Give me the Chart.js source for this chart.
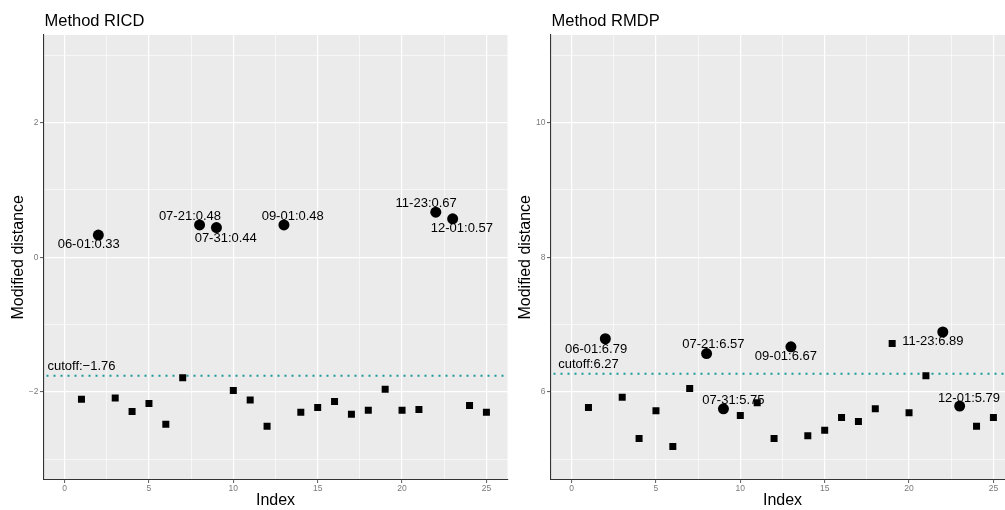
<!DOCTYPE html>
<html>
<head>
<meta charset="utf-8">
<script src="https://cdn.jsdelivr.net/npm/chart.js@4.4.1/dist/chart.umd.min.js"></script>
<style>
  html, body { margin: 0; padding: 0; background: #ffffff; overflow: hidden; width: 1005px; height: 510px; }
  canvas { position: absolute; top: 0; }
  #c1 { left: 0px; }
  #c2 { left: 506.5px; }
</style>
</head>
<body>
<canvas id="c1" width="515" height="510"></canvas>
<canvas id="c2" width="515" height="510"></canvas>
<script>
// ---------------- DATA ----------------
const panelTitles = ["Method RICD", "Method RMDP"];
const yAxisTitle = "Modified distance";
const xAxisTitle = "Index";

// regular observations (squares)
const regularIndex = [1, 3, 4, 5, 6, 7, 10, 11, 12, 14, 15, 16, 17, 18, 19, 20, 21, 24, 25];
const ricdRegular  = [-2.11, -2.09, -2.29, -2.17, -2.48, -1.79, -1.98, -2.12, -2.51, -2.30, -2.23, -2.14, -2.33, -2.27, -1.96, -2.27, -2.26, -2.20, -2.30];
const rmdpRegular  = [5.77, 5.92, 5.31, 5.72, 5.19, 6.05, 5.65, 5.84, 5.31, 5.35, 5.43, 5.62, 5.56, 5.75, 6.72, 5.69, 6.24, 5.49, 5.62];

// flagged observations (circles, labelled)
const flaggedIndex = [2, 8, 9, 13, 22, 23];
const flaggedDates = ["06-01", "07-21", "07-31", "09-01", "11-23", "12-01"];
const ricdFlagged  = [0.33, 0.48, 0.44, 0.48, 0.67, 0.57];
const rmdpFlagged  = [6.79, 6.57, 5.75, 6.67, 6.89, 5.79];

// cutoffs
const ricdCutoff = -1.76;
const rmdpCutoff = 6.27;
const cutoffLabelX = 1;

// axes
const xLimits = [-1.25, 26.25];
const xMajorTicks = [0, 5, 10, 15, 20, 25];
const xMinorTicks = [2.5, 7.5, 12.5, 17.5, 22.5];
const ricdYLimits = [-3.3, 3.3];
const ricdYMajor = [-2, 0, 2];
const ricdYMinor = [-3, -1, 1, 3];
const rmdpYLimits = [4.7, 11.3];
const rmdpYMajor = [6, 8, 10];
const rmdpYMinor = [5, 7, 9, 11];

// ---------------- HELPERS ----------------
const FONT = "'Liberation Sans', Arial, Helvetica, sans-serif";
const fmtNum = (v) => {
  const s = (Math.round(v * 100) / 100).toFixed(2);
  return s.replace('-', '\u2212');
};
const fmtTick = (v) => String(v).replace('-', '\u2212');

function makeChart(canvasId, cfg) {
  const majorSetX = new Set(xMajorTicks);
  const majorSetY = new Set(cfg.yMajor);

  const bgPlugin = {
    id: 'panelBg',
    beforeDraw(chart) {
      const {ctx, chartArea: a} = chart;
      ctx.save();
      ctx.fillStyle = '#EBEBEB';
      ctx.fillRect(a.left, a.top, a.right - a.left, a.bottom - a.top);
      ctx.restore();
    }
  };

  const cutoffPlugin = {
    id: 'cutoff',
    beforeDatasetsDraw(chart) {
      const {ctx, chartArea: a, scales} = chart;
      const y = scales.y.getPixelForValue(cfg.cutoff);
      ctx.save();
      ctx.beginPath();
      ctx.rect(a.left, a.top, a.right - a.left, a.bottom - a.top);
      ctx.clip();
      ctx.strokeStyle = '#1A9A9A';
      ctx.lineWidth = 2;
      ctx.setLineDash([2, 5]);
      ctx.beginPath();
      ctx.moveTo(a.left + 3, y);
      ctx.lineTo(a.right, y);
      ctx.stroke();
      ctx.setLineDash([]);
      ctx.fillStyle = '#000';
      ctx.font = '13px ' + FONT;
      ctx.textAlign = 'center';
      ctx.textBaseline = 'middle';
      ctx.fillText('cutoff:' + fmtNum(cfg.cutoff), scales.x.getPixelForValue(cutoffLabelX), y - 9.3);
      ctx.restore();
    }
  };

  const labelPlugin = {
    id: 'pointLabels',
    afterDatasetsDraw(chart) {
      const {ctx, scales} = chart;
      ctx.save();
      ctx.fillStyle = '#000';
      ctx.font = '13px ' + FONT;
      ctx.textAlign = 'center';
      ctx.textBaseline = 'middle';
      flaggedIndex.forEach((ix, i) => {
        const px = scales.x.getPixelForValue(ix);
        const py = scales.y.getPixelForValue(cfg.flagged[i]);
        const off = cfg.labelOffsets[i];
        ctx.fillText(flaggedDates[i] + ':' + fmtNum(cfg.flagged[i]), px + off[0], py + off[1]);
      });
      ctx.restore();
    }
  };

  const titlePlugin = {
    id: 'panelTitle',
    afterDraw(chart) {
      const {ctx, chartArea: a} = chart;
      ctx.save();
      ctx.fillStyle = '#000';
      ctx.font = '16.5px ' + FONT;
      ctx.textAlign = 'left';
      ctx.textBaseline = 'middle';
      ctx.fillText(cfg.title, a.left + 1, 21.7);
      ctx.restore();
    }
  };

  return new Chart(document.getElementById(canvasId), {
    type: 'scatter',
    data: {
      datasets: [
        {
          label: 'regular',
          data: regularIndex.map((x, i) => ({x: x, y: cfg.regular[i]})),
          pointStyle: 'rect',
          pointRadius: 4.95,
          pointHoverRadius: 4.95,
          backgroundColor: '#000',
          borderWidth: 0,
          pointBorderWidth: 0
        },
        {
          label: 'flagged',
          data: flaggedIndex.map((x, i) => ({x: x, y: cfg.flagged[i]})),
          pointStyle: 'circle',
          pointRadius: 5.5,
          pointHoverRadius: 5.5,
          backgroundColor: '#000',
          borderWidth: 0,
          pointBorderWidth: 0
        }
      ]
    },
    options: {
      responsive: false,
      animation: false,
      events: [],
      layout: { padding: { top: 35, right: 7.5, left: 0.5, bottom: 0 } },
      plugins: { legend: { display: false }, tooltip: { enabled: false }, title: { display: false } },
      scales: {
        x: {
          type: 'linear',
          min: xLimits[0],
          max: xLimits[1],
          afterBuildTicks(scale) {
            scale.ticks = xMajorTicks.concat(xMinorTicks).sort((a, b) => a - b).map(v => ({value: v}));
          },
          afterFit(scale) { scale.height = 30.5; },
          ticks: {
            autoSkip: false,
            maxRotation: 0,
            padding: 0.5,
            color: '#7A7A7A',
            font: { family: FONT, size: 8.5 },
            callback: (v) => majorSetX.has(v) ? fmtTick(v) : ''
          },
          grid: {
            color: '#FFFFFF',
            lineWidth: (c) => (c.tick && majorSetX.has(c.tick.value)) ? 1.2 : 0.6,
            drawTicks: true,
            tickLength: 3.5,
            tickWidth: 1,
            tickColor: (c) => (c.tick && majorSetX.has(c.tick.value)) ? '#555555' : 'rgba(0,0,0,0)'
          },
          border: { display: true, color: '#333333', width: 1.1 },
          title: {
            display: true,
            text: xAxisTitle,
            color: '#000',
            font: { family: FONT, size: 16 },
            padding: { top: 0, bottom: 0 }
          }
        },
        y: {
          type: 'linear',
          min: cfg.yLimits[0],
          max: cfg.yLimits[1],
          afterBuildTicks(scale) {
            scale.ticks = cfg.yMajor.concat(cfg.yMinor).sort((a, b) => a - b).map(v => ({value: v}));
          },
          afterFit(scale) { scale.width = 43; },
          ticks: {
            autoSkip: false,
            padding: 1.5,
            color: '#7A7A7A',
            font: { family: FONT, size: 8.5 },
            callback: (v) => majorSetY.has(v) ? fmtTick(v) : ''
          },
          grid: {
            color: '#FFFFFF',
            lineWidth: (c) => (c.tick && majorSetY.has(c.tick.value)) ? 1.2 : 0.6,
            drawTicks: true,
            tickLength: 3.5,
            tickWidth: 1,
            tickColor: (c) => (c.tick && majorSetY.has(c.tick.value)) ? '#555555' : 'rgba(0,0,0,0)'
          },
          border: { display: true, color: '#333333', width: 1.1 },
          title: {
            display: true,
            text: yAxisTitle,
            color: '#000',
            font: { family: FONT, size: 16 },
            padding: { top: 8, bottom: 0 }
          }
        }
      }
    },
    plugins: [bgPlugin, cutoffPlugin, labelPlugin, titlePlugin]
  });
}

makeChart('c1', {
  title: panelTitles[0],
  regular: ricdRegular,
  flagged: ricdFlagged,
  cutoff: ricdCutoff,
  yLimits: ricdYLimits,
  yMajor: ricdYMajor,
  yMinor: ricdYMinor,
  labelOffsets: [[-9.6, 9.7], [-9.6, -8.5], [9.3, 10.4], [8.8, -8.5], [-9.6, -9.2], [9.2, 9.8]]
});

makeChart('c2', {
  title: panelTitles[1],
  regular: rmdpRegular,
  flagged: rmdpFlagged,
  cutoff: rmdpCutoff,
  yLimits: rmdpYLimits,
  yMajor: rmdpYMajor,
  yMinor: rmdpYMinor,
  labelOffsets: [[-9.3, 10.4], [6.8, -9.1], [10, -8.5], [-5, 10], [-9.9, 9.1], [9.3, -8.1]]
});
</script>
</body>
</html>
